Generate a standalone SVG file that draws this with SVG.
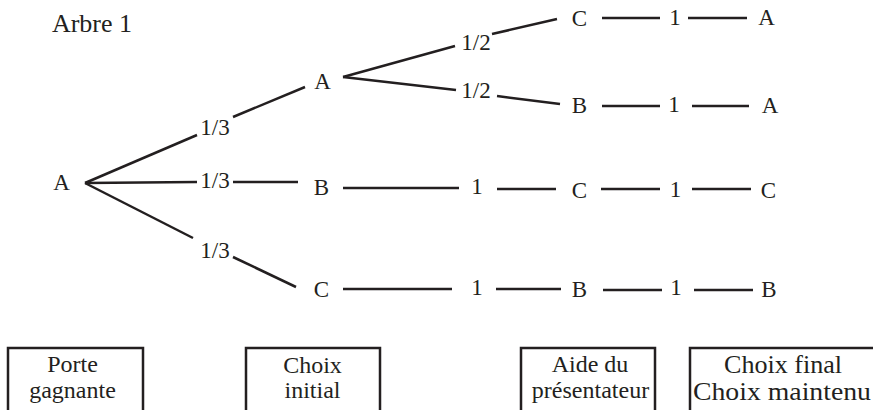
<svg xmlns="http://www.w3.org/2000/svg" width="873" height="410" viewBox="0 0 873 410">
<style>
text{font-family:"Liberation Serif","Times New Roman",serif;fill:#231f20}
.n{font-size:23px;text-anchor:middle}
.p{font-size:23px;text-anchor:middle}
.b{font-size:24px;text-anchor:middle}
.b4{font-size:25px;text-anchor:middle}
.e line{stroke:#231f20;stroke-width:2.5;fill:none}
.box{fill:none;stroke:#231f20;stroke-width:2.5}
</style>
<rect width="873" height="410" fill="#ffffff"/>
<text x="92" y="32" style="font-size:26px;text-anchor:middle">Arbre 1</text>
<g id="connectors" class="e">
<line x1="85" y1="183" x2="197" y2="135"/>
<line x1="233" y1="117" x2="305" y2="87"/>
<line x1="85" y1="183" x2="197" y2="182"/>
<line x1="233" y1="182" x2="298" y2="182"/>
<line x1="85" y1="183" x2="193" y2="238"/>
<line x1="233" y1="257" x2="296" y2="287"/>
<line x1="343" y1="77" x2="455" y2="46"/>
<line x1="492" y1="34" x2="557" y2="19"/>
<line x1="343" y1="77" x2="456" y2="90"/>
<line x1="497" y1="96" x2="560" y2="104"/>
<line x1="343" y1="188" x2="459" y2="188"/>
<line x1="497" y1="189" x2="556" y2="189"/>
<line x1="343" y1="289" x2="452" y2="289"/>
<line x1="496" y1="289" x2="561" y2="289"/>
<line x1="602" y1="18" x2="660" y2="18"/>
<line x1="688" y1="18" x2="747" y2="18"/>
<line x1="602" y1="106" x2="660" y2="106"/>
<line x1="692" y1="106" x2="749" y2="106"/>
<line x1="601" y1="189" x2="660" y2="189"/>
<line x1="692" y1="189" x2="751" y2="189"/>
<line x1="603" y1="290" x2="662" y2="290"/>
<line x1="694" y1="290" x2="753" y2="290"/>
</g>
<g id="edge-labels">
<text class="p" x="215" y="135">1/3</text>
<text class="p" x="215" y="188">1/3</text>
<text class="p" x="215" y="258">1/3</text>
<text class="p" x="476" y="50">1/2</text>
<text class="p" x="476" y="98">1/2</text>
<text class="p" x="477" y="194">1</text>
<text class="p" x="477" y="295">1</text>
<text class="p" x="675" y="25">1</text>
<text class="p" x="674" y="112">1</text>
<text class="p" x="675.5" y="197">1</text>
<text class="p" x="676" y="295">1</text>
</g>
<g id="root-A"><text class="n" x="61.5" y="190">A</text></g>
<g id="l2-A"><text class="n" x="322.5" y="89">A</text></g>
<g id="l2-B"><text class="n" x="321.5" y="195">B</text></g>
<g id="l2-C"><text class="n" x="321.5" y="297">C</text></g>
<g id="l3-C1"><text class="n" x="579.5" y="26">C</text></g>
<g id="l3-B1"><text class="n" x="579.5" y="113">B</text></g>
<g id="l3-C2"><text class="n" x="579.5" y="198">C</text></g>
<g id="l3-B2"><text class="n" x="579.5" y="297">B</text></g>
<g id="f-A1"><text class="n" x="766.5" y="25">A</text></g>
<g id="f-A2"><text class="n" x="770" y="113">A</text></g>
<g id="f-C"><text class="n" x="768.5" y="198">C</text></g>
<g id="f-B"><text class="n" x="769" y="297">B</text></g>
<g id="box-porte">
<rect class="box" x="8" y="348" width="135" height="72"/>
<text class="b" x="72.5" y="372">Porte</text>
<text class="b" x="72.5" y="398">gagnante</text>
</g>
<g id="box-choix-initial">
<rect class="box" x="246" y="348" width="134" height="72"/>
<text class="b" x="312.5" y="373">Choix</text>
<text class="b" x="312.5" y="398">initial</text>
</g>
<g id="box-aide">
<rect class="box" x="521" y="348" width="134" height="72"/>
<text class="b" x="590" y="372">Aide du</text>
<text class="b" x="590.5" y="398">présentateur</text>
</g>
<g id="box-choix-final">
<rect class="box" x="690" y="348" width="200" height="72"/>
<text class="b4" x="783" y="373" textLength="118" lengthAdjust="spacingAndGlyphs">Choix final</text>
<text class="b4" x="782" y="400" textLength="178" lengthAdjust="spacingAndGlyphs">Choix maintenu</text>
</g>
</svg>
